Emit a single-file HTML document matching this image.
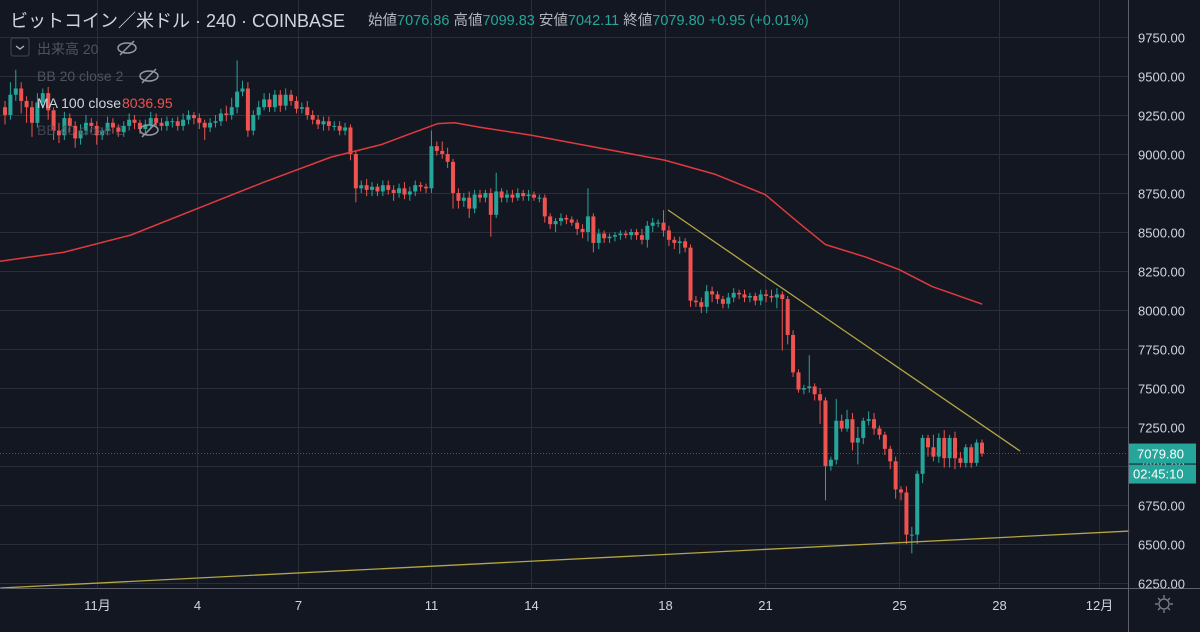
<!DOCTYPE html>
<html><head><meta charset="utf-8">
<style>
body{margin:0;background:#131722;width:1200px;height:632px;overflow:hidden;font-family:"Liberation Sans","Noto Sans CJK JP",sans-serif}
svg{display:block}
</style></head>
<body>
<svg id="chart" width="1200" height="632" xmlns="http://www.w3.org/2000/svg">
<rect width="1200" height="632" fill="#131722"/>
<g id="grid"></g>
<g id="marks"></g>
<g id="overlay"></g>
<line x1="1128.5" y1="0" x2="1128.5" y2="632" stroke="#5d606b"/>
<line x1="0" y1="588.5" x2="1200" y2="588.5" stroke="#5d606b"/>
<g id="yaxis"></g>
<g id="xaxis"></g>
<g>
<text x="10" y="27" fill="#d1d4dc" font-size="18">ビットコイン／米ドル · 240 · COINBASE</text>
<text x="368" y="25" font-size="14.5"><tspan fill="#b2b5be">始値</tspan><tspan fill="#26a69a">7076.86 </tspan><tspan fill="#b2b5be">高値</tspan><tspan fill="#26a69a">7099.83 </tspan><tspan fill="#b2b5be">安値</tspan><tspan fill="#26a69a">7042.11 </tspan><tspan fill="#b2b5be">終値</tspan><tspan fill="#26a69a">7079.80 +0.95 (+0.01%)</tspan></text>
</g>
<g font-size="14">
<rect x="11" y="38" width="18" height="18" rx="2" fill="none" stroke="#434651"/>
<path d="M16 46 l4 3 l4 -3" fill="none" stroke="#b2b5be" stroke-width="1.3"/>
<text x="37" y="54" fill="#50535e">出来高 20</text>
<text x="37" y="81" fill="#50535e">BB 20 close 2</text>
<text x="37" y="108" fill="#d1d4dc">MA 100 close</text>
<text x="122" y="108" fill="#ef5350">8036.95</text>
<text x="37" y="135" fill="#50535e" fill-opacity="0.8">BB 40 close 2</text>
<g fill="none" stroke="#9598a1" stroke-width="1.5">
<g><ellipse cx="127" cy="48" rx="9" ry="5"/><line x1="120" y1="55" x2="134" y2="41"/></g>
<g><ellipse cx="149" cy="76" rx="9" ry="5"/><line x1="142" y1="83" x2="156" y2="69"/></g>
<g><ellipse cx="149" cy="130" rx="9" ry="5"/><line x1="142" y1="137" x2="156" y2="123"/></g>
</g></g>
<g fill="none" stroke="#787b86" stroke-width="1.4">
<circle cx="1164" cy="604" r="5"/>
<path d="M1164 595v3M1164 610v3M1155 604h3M1170 604h3M1158 598l2 2M1168 608l2 2M1170 598l-2 2M1160 608l-2 2"/>
</g>
</svg>
<script>
const priceTicks=[6250,6500,6750,7000,7250,7500,7750,8000,8250,8500,8750,9000,9250,9500,9750];
const dateTicks=[1,4,7,11,14,18,21,25,28,31];
const dateLabels=["11月","4","7","11","14","18","21","25","28","12月"];
const closes=[9250,9380,9420,9340,9300,9200,9330,9390,9280,9150,9120,9230,9180,9100,9150,9200,
9180,9120,9150,9200,9170,9140, 9180,9220,9200,9160,9190,9230, 9200,9180,9210, 9210,9180,9220,9250,9230,9200,
9170,9200,9210,9260,9250,9300, 9400,9420,9150,9250,9300,9350, 9300,9380,9310,9380,9340,9290,
9300,9250,9220,9190,9210,9180, 9180,9150,9170,9000,8780,8800, 8770,8790,8760,8800,8770,8750,
8780,8740,8760,8800,8790,8780, 9050,9020,9000,8950,8750,8700, 8720,8650,8740,
8720,8750,8610,8760,8720,8740, 8720,8750,8730,8740,8720,8720, 8600,8550,8570,8590,8580,8560,
8520,8500,8600,8430,8490,8460, 8470,8480,8490,8480,8500,8480, 8450,8540,8560,8560,8510,8450,
8430,8440,8400,8060,8050,8020, 8120,8100,8070,8040,8080,8110, 8100,8080,8090,8060,8100,8090,
8080,8100,8070,7840,7600,7490, 7500,7510,7460,7420,7000,7040, 7290,7240,7300,7150,7180,7290,
7300,7240,7200,7110,7030,6850, 6830,6560,6560,6950,7180,7120, 7060,7180,7050,7180,7050,7020,
7120,7020,7150,7079.8];
const wickUp=[40,80,120,40,30,40,60,30,40,20,50,40,30,30,40,50,30,30,20,40,30,20,30,40,30,20,30,40,30,30,30,20,30,40,30,20,30,
20,30,40,30,50,60,200,50,40,30,40,40,40,30,30,40,30,30,30,40,30,30,30,30,30,30,30,20,20,30,40,30,20,30,30,30,
30,40,30,30,20,20,100,30,60,40,20,30,30,40,30,30,20,30,120,20,30,30,30,20,30,20,20,20,20,20,30,20,20,
20,30,180,20,30,20,20,20,20,20,20,20,40,30,30,20,80,30,20,30,20,20,30,30,40,30,20,20,30,30,20,30,20,20,30,30,
40,40,20,20,30,20,20,200,20,40,20,20,140,40,60,40,70,20,50,40,20,20,20,30,20,40,50,20,20,20,80,30,50,20,40,40,20,20];
const wickDn=[60,30,40,80,100,90,30,40,60,60,50,30,40,60,40,30,40,60,30,30,40,30,30,30,40,30,30,30,30,30,30,40,30,30,30,40,40,
80,30,30,30,40,30,40,30,40,30,30,20,30,30,40,30,30,30,30,30,30,30,40,30,30,30,30,40,90,30,40,40,30,30,30,50,
30,30,40,30,30,30,30,30,30,40,100,50,40,60,30,30,30,140,20,30,30,30,20,30,30,20,30,40,30,50,30,30,20,
40,40,60,60,40,30,30,30,30,20,30,30,30,50,40,30,40,40,40,70,30,40,30,40,40,50,30,30,30,30,30,30,30,30,30,40,
30,70,330,60,30,20,30,30,40,150,220,30,30,20,20,50,140,40,30,40,30,40,50,60,50,60,120,60,60,60,30,40,60,60,70,30,30,30];
const maDays=[-2.1,0,2,4,6,8,9.5,10.5,11.2,11.7,12.5,14,16,18,19.5,21,22,22.8,24,25,26,27.5];
const maVals=[8307,8370,8480,8650,8820,8980,9060,9140,9195,9200,9170,9120,9040,8960,8870,8740,8560,8420,8340,8260,8150,8037];
const trendA={d1:18.09,p1:8641,d2:28.63,p2:7096};
const trendB={d1:-1.9,p1:6218,d2:31.9,p2:6583};
const lastPrice=7079.8;

const NS="http://www.w3.org/2000/svg";
const yOf=p=>37+(9750-p)/250*39;
const xDay=d=>665+(d-18)*33.4;
const xIdx=i=>5+i*(977/(closes.length-1));
function mk(tag,attrs,parent){const e=document.createElementNS(NS,tag);for(const k in attrs)e.setAttribute(k,attrs[k]);parent.appendChild(e);return e;}
const grid=document.getElementById('grid'),marks=document.getElementById('marks'),ov=document.getElementById('overlay'),ya=document.getElementById('yaxis'),xa=document.getElementById('xaxis');
priceTicks.forEach(p=>{
 const y=Math.round(yOf(p))+0.5;
 const l=mk('line',{x1:0,x2:1128,y1:y,y2:y,stroke:'#2a2e39','stroke-width':1},grid);
 
 
 const t=mk('text',{x:1138,y:y+5,fill:'#d1d4dc','font-size':13},ya);
 t.textContent=p.toFixed(2);
 
 
});
dateTicks.forEach((d,k)=>{
 const x=Math.round(xDay(d))+0.5;
 const l=mk('line',{x1:x,x2:x,y1:0,y2:588,stroke:'#2a2e39','stroke-width':1},grid);
 
 
 const t=mk('text',{x:x,y:610,fill:'#d1d4dc','font-size':13,'text-anchor':'middle'},xa);
 t.textContent=dateLabels[k];
 
 
});
closes.forEach((c,i)=>{
 const o=i===0?9300:closes[i-1];
 const up=c>=o,col=up?'#26a69a':'#ef5350';
 const x=xIdx(i);
 const hi=Math.max(o,c)+(wickUp[i]||20),lo=Math.min(o,c)-(wickDn[i]||20);
 const w=mk('line',{x1:x,x2:x,y1:yOf(hi),y2:yOf(lo),stroke:col,'stroke-width':1},marks);
 
 
 const yt=yOf(Math.max(o,c)),yb=yOf(Math.min(o,c));
 const b=mk('rect',{x:x-2,y:yt,width:4,height:Math.max(1,yb-yt),fill:col},marks);
 
 
});
const ma=mk('polyline',{points:maDays.map((d,i)=>xDay(d)+','+yOf(maVals[i])).join(' '),fill:'none',stroke:'#e03a3e','stroke-width':1.5,'stroke-linejoin':'round'},ov);


[[trendA,'trendline-resistance'],[trendB,'trendline-support']].forEach(([t,n])=>{
 const l=mk('line',{x1:xDay(t.d1),y1:yOf(t.p1),x2:xDay(t.d2),y2:yOf(t.p2),stroke:'#b5a642','stroke-width':1.3},ov);
 
 
});
const yl=yOf(lastPrice);
const pl=mk('line',{x1:0,x2:1128,y1:yl,y2:yl,stroke:'#26a69a','stroke-width':1,'stroke-dasharray':'1 2','stroke-opacity':0.6},ov);


const lb=mk('rect',{x:1129,y:yl-10,width:67,height:20,fill:'#26a69a'},ya);


const lt=mk('text',{x:1137,y:yl+5,fill:'#fff','font-size':13},ya);
lt.textContent=lastPrice.toFixed(2);


const cb=mk('rect',{x:1129,y:yl+11,width:67,height:19,fill:'#26a69a'},ya);


const ct=mk('text',{x:1133,y:yl+25,fill:'#fff','font-size':13},ya);
ct.textContent='02:45:10';


</script>
</body></html>
